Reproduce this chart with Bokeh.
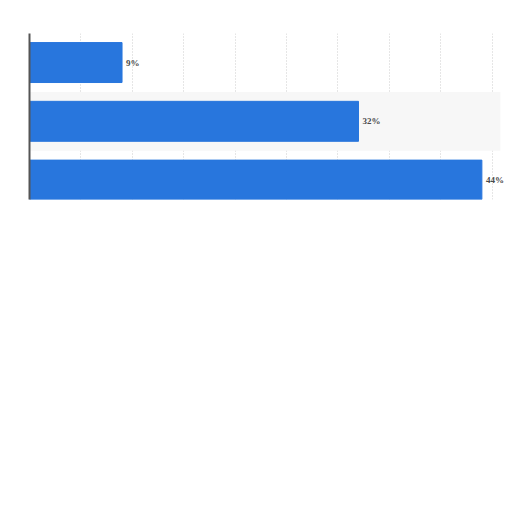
from bokeh.plotting import figure
from bokeh.models import ColumnDataSource, Range1d, LabelSet, BoxAnnotation
from bokeh.embed import file_html
from bokeh.resources import INLINE

categories = ["A", "B", "C"]
values = [9, 32, 44]
labels = ["9%", "32%", "44%"]

pos = list(range(len(categories)))
src = ColumnDataSource(dict(y=pos, v=values, lab=labels, cat=categories))

p = figure(width=510, height=208, output_backend="svg", toolbar_location=None,
           x_range=Range1d(0, 46.2), y_range=Range1d(2.33, -0.494),
           min_border_left=29, min_border_right=6, min_border_top=33, min_border_bottom=9)

p.outline_line_color = None
p.background_fill_color = "white"

# alternating row band
p.add_layout(BoxAnnotation(bottom=0.5, top=1.5, right=45.8, fill_color="#f7f7f7", fill_alpha=1.0,
                           line_color=None, level="underlay"))

p.hbar(y="y", right="v", left=0, height=0.68, source=src, color="#2876dd")

p.add_layout(LabelSet(x="v", y="y", text="lab", source=src, x_offset=4,
                      text_baseline="middle", text_font_size="9px",
                      text_font_style="bold", text_color="#4a4a4a",
                      text_font="DejaVu Sans"))

p.xaxis.visible = False
p.yaxis.major_label_text_font_size = "0px"
p.yaxis.major_tick_line_color = None
p.yaxis.minor_tick_line_color = None
p.yaxis.axis_line_color = "#555555"
p.yaxis.axis_line_width = 2
p.yaxis.ticker = []

p.xgrid.ticker = list(range(0, 50, 5))
p.xgrid.grid_line_color = "#cccccc"
p.xgrid.grid_line_dash = "1 2"
p.ygrid.grid_line_color = None

open("out.html", "w").write(file_html(p, INLINE))
